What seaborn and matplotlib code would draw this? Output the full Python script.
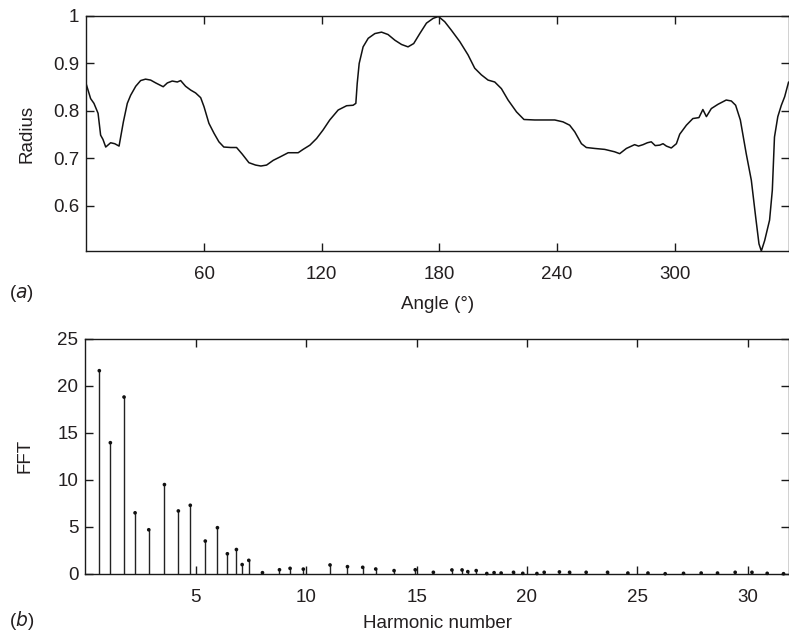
import matplotlib
matplotlib.use("Agg")
import matplotlib.pyplot as plt
import seaborn as sns
import pandas as pd

# ---- panel (a): radius vs angle ----
angle = [0, 2.2, 3.9, 6.0, 7.3, 8.5, 9.9, 12.4, 14.5, 16.7, 18.9, 20.9, 22.6, 25.2, 27.7,
         30.2, 32.8, 35.4, 39.2, 41.3, 43.8, 46.4, 48.1, 50.6, 53.2, 55.7, 58.3, 60.0, 62.5,
         65.1, 67.6, 70.1, 73.6, 76.6, 79.5, 82.9, 86.3, 89.0, 91.9, 95.3, 98.7, 102.9, 105.5,
         108.0, 110.5, 114.0, 117.4, 120.7, 124.1, 128.4, 132.7, 136.0, 137.4, 138.1, 139.1,
         141.1, 143.7, 147.1, 150.5, 153.8, 157.3, 160.7, 164.0, 166.9, 170.0, 173.4, 176.8,
         179.5, 182.7, 186.1, 190.4, 194.6, 198.0, 201.4, 204.8, 208.2, 211.6, 215.0, 219.3,
         223.1, 228.6, 233.6, 238.8, 243.0, 246.4, 249.0, 252.4, 254.9, 259.2, 264.3, 269.3,
         271.9, 275.3, 279.5, 281.5, 283.8, 286.0, 288.0, 290.0, 292.3, 294.0, 295.7, 298.2,
         300.8, 302.5, 305.9, 309.2, 312.3, 314.3, 316.1, 318.6, 322.0, 326.2, 328.8, 331.0,
         333.4, 336.4, 339.0, 341.2, 342.9, 344.1, 345.8, 348.3, 349.7, 350.8, 352.5, 354.3,
         356.0, 358.0]
radius = [0.856, 0.826, 0.816, 0.795, 0.749, 0.740, 0.724, 0.733, 0.731, 0.726, 0.777, 0.816,
          0.833, 0.852, 0.864, 0.867, 0.865, 0.859, 0.851, 0.859, 0.863, 0.861, 0.864, 0.852,
          0.844, 0.838, 0.828, 0.809, 0.774, 0.753, 0.735, 0.724, 0.723, 0.723, 0.709, 0.691,
          0.686, 0.684, 0.686, 0.696, 0.703, 0.712, 0.712, 0.712, 0.719, 0.728, 0.742, 0.760,
          0.781, 0.802, 0.811, 0.812, 0.816, 0.858, 0.900, 0.935, 0.953, 0.963, 0.966, 0.961,
          0.949, 0.940, 0.935, 0.942, 0.963, 0.985, 0.995, 0.999, 0.988, 0.970, 0.946, 0.918,
          0.890, 0.876, 0.865, 0.861, 0.847, 0.823, 0.798, 0.782, 0.781, 0.781, 0.781, 0.777,
          0.770, 0.756, 0.731, 0.723, 0.721, 0.719, 0.714, 0.710, 0.721, 0.729, 0.726, 0.729,
          0.733, 0.735, 0.727, 0.728, 0.731, 0.726, 0.722, 0.731, 0.751, 0.770, 0.784, 0.786,
          0.803, 0.788, 0.805, 0.814, 0.823, 0.821, 0.812, 0.781, 0.710, 0.654, 0.577, 0.520,
          0.505, 0.527, 0.570, 0.633, 0.745, 0.788, 0.812, 0.830, 0.861]

# ---- panel (b): FFT vs harmonic number ----
harmonic = [0.63, 1.13, 1.75, 2.25, 2.87, 3.58, 4.21, 4.75, 5.43, 5.98, 6.43, 6.84, 7.10, 7.40,
            8.02, 8.79, 9.27, 9.87, 11.08, 11.87, 12.56, 13.15, 13.98, 14.94, 15.76, 16.60,
            17.06, 17.32, 17.70, 18.18, 18.51, 18.83, 19.39, 19.81, 20.45, 20.78, 21.47,
            21.93, 22.68, 23.65, 24.57, 25.48, 26.26, 27.09, 27.89, 28.63, 29.43, 30.19,
            30.88, 31.62]
fft = [21.6, 13.95, 18.8, 6.5, 4.7, 9.5, 6.7, 7.3, 3.5, 4.92, 2.15, 2.6, 1.0, 1.45,
       0.14, 0.45, 0.6, 0.52, 0.96, 0.78, 0.71, 0.53, 0.36, 0.45, 0.18, 0.43,
       0.43, 0.25, 0.36, 0.05, 0.14, 0.10, 0.18, 0.07, 0.05, 0.18, 0.22,
       0.18, 0.18, 0.18, 0.10, 0.10, 0.03, 0.07, 0.10, 0.10, 0.18, 0.18,
       0.07, 0.03]

sns.set_style("ticks")
plt.rcParams["font.family"] = ["Liberation Sans", "DejaVu Sans"]
TXT = "#231f20"
plt.rcParams.update({
    "axes.edgecolor": "#1a1a1a",
    "axes.linewidth": 1.0,
    "xtick.color": "#1a1a1a",
    "ytick.color": "#1a1a1a",
    "xtick.labelcolor": TXT,
    "ytick.labelcolor": TXT,
    "axes.labelcolor": TXT,
})
FS = 13.5

fig = plt.figure(figsize=(7.89, 6.36), dpi=100)
W, H = 789, 636
ax1 = fig.add_axes([86.3 / W, (H - 251) / H, (788.6 - 86.3) / W, (251 - 16) / H])
ax2 = fig.add_axes([85.4 / W, (H - 574) / H, (788.6 - 85.4) / W, (574 - 338.7) / H])

df_a = pd.DataFrame({"Angle": angle, "Radius": radius})
sns.lineplot(data=df_a, x="Angle", y="Radius", ax=ax1, color="#111111", linewidth=1.1,
             sort=False, estimator=None)
ax1.set_xlim(0, 358)
ax1.set_ylim(0.505, 1.0)
ax1.set_xticks([60, 120, 180, 240, 300])
ax1.set_yticks([0.6, 0.7, 0.8, 0.9, 1.0])
ax1.set_yticklabels(["0.6", "0.7", "0.8", "0.9", "1"])
ax1.set_xlabel("Angle (°)", fontsize=FS, labelpad=9)
ax1.set_ylabel("Radius", fontsize=FS, labelpad=13)

df_b = pd.DataFrame({"Harmonic": harmonic, "FFT": fft})
ax2.vlines(df_b["Harmonic"], 0, df_b["FFT"], color="#222222", linewidth=1.0)
sns.scatterplot(data=df_b, x="Harmonic", y="FFT", ax=ax2, color="#111111", s=7,
                edgecolor="none", zorder=3, clip_on=False)
ax2.set_xlim(0, 31.85)
ax2.set_ylim(0, 25)
ax2.set_xticks([5, 10, 15, 20, 25, 30])
ax2.set_yticks([0, 5, 10, 15, 20, 25])
ax2.set_xlabel("Harmonic number", fontsize=FS, labelpad=6)
ax2.set_ylabel("FFT", fontsize=FS, labelpad=17)

for ax in (ax1, ax2):
    for s in ax.spines.values():
        s.set_visible(True)
    ax.tick_params(direction="in", length=6, width=1.0, top=True, right=True,
                   labelsize=FS, pad=11)
    ax.tick_params(axis="y", pad=5)
    ax.grid(False)

fig.text(0.012, 1 - 293 / H, r"($\mathit{a}$)", fontsize=FS, va="center", ha="left", color=TXT)
fig.text(0.012, 1 - 621 / H, r"($\mathit{b}$)", fontsize=FS, va="center", ha="left", color=TXT)

fig.savefig("out.png", dpi=100)
